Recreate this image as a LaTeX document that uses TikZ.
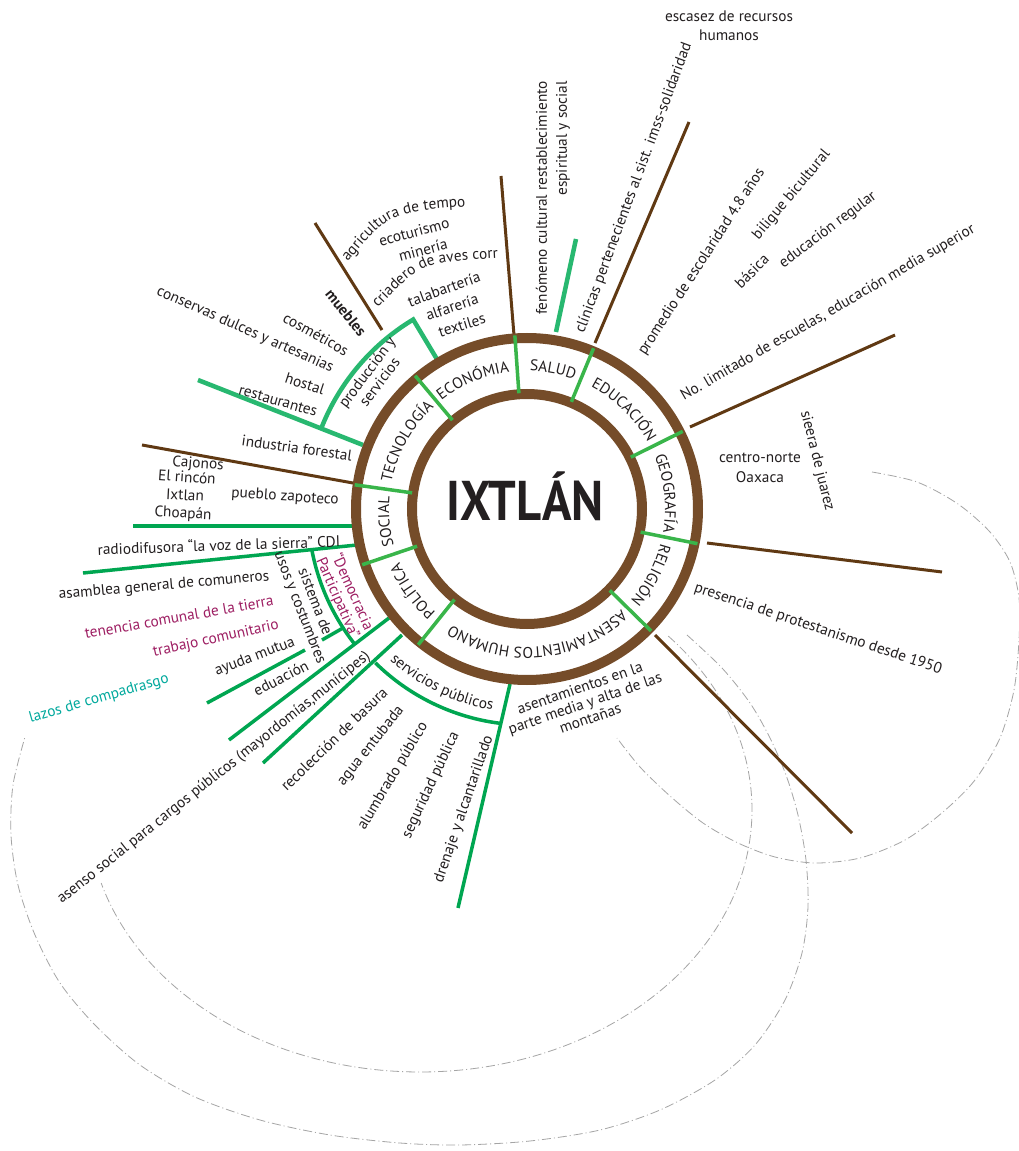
\documentclass[tikz,border=0pt]{standalone}
\usepackage{fontspec}
\setmainfont{PT Sans}
\usetikzlibrary{decorations.text}
\definecolor{ringbrown}{RGB}{117,76,41}
\definecolor{linebrown}{RGB}{96,57,19}
\definecolor{divgreen}{RGB}{57,181,74}
\definecolor{dgreen}{RGB}{0,166,81}
\definecolor{tgreen}{RGB}{40,184,112}
\definecolor{mag}{RGB}{158,31,99}
\definecolor{tealtxt}{RGB}{0,169,157}
\definecolor{txt}{RGB}{35,31,32}
\definecolor{dashgray}{RGB}{165,165,165}
\newcommand\bodyfont{\fontsize{15.3}{18}\selectfont}
\newcommand\ringfont{\fontsize{15.5}{18}\selectfont}
\tikzset{
 px/.style={x=1pt,y=-1pt,shift={(-527,-509)}},
 lbl/.style={font=\bodyfont, text=txt, inner sep=0pt},
 mlbl/.style={lbl, text=mag},
 tlbl/.style={lbl, text=tealtxt},
 bline/.style={draw=linebrown, line width=3pt},
 gline/.style={draw=dgreen, line width=3.5pt},
 tline/.style={draw=tgreen, line width=4.5pt},
 divline/.style={draw=divgreen, line width=3.5pt},
 ringline/.style={draw=ringbrown, line width=10pt},
 dsh/.style={draw=dashgray, line width=0.8pt, dash pattern=on 9pt off 3pt on 1pt off 3pt},
}
\newcommand\ringlabel[3]{%
 \path[decorate, decoration={text along path, text={|\ringfont|#3}, text align=center, text color=txt}]
 ({#1+#2}:138) arc[start angle={#1+#2}, end angle={#1-#2}, radius=138];}
\begin{document}
\begin{tikzpicture}[x=1pt,y=1pt]
\useasboundingbox (-527,-642) rectangle (492,509);
\fill[white] (-527,-642) rectangle (492,509);

% ---------- dashed arcs ----------
\draw[dsh] (-107,-301) ++(41.6:332 and 262) arc[start angle=41.6, end angle=-163.8, x radius=332, y radius=262];
\begin{scope}[px]
\draw[dsh] plot[smooth] coordinates {(872,472) (917,482) (958,504) (990,532) (1010,562) (1019,598) (1019,640) (1014,690) (1000,738) (975,780) (943,812) (905,840) (860,858) (815,863) (775,857) (738,843) (703,823) (670,796) (640,767) (617,738)};
\draw[dsh] plot[smooth] coordinates {(687,635) (722,668) (750,703) (770,738) (786,775) (798,815) (806,860) (808,907) (802,953) (785,1000) (755,1045) (715,1080) (660,1110) (600,1130) (530,1141) (460,1145) (400,1143) (330,1135) (260,1120) (195,1097) (140,1065) (95,1025) (60,983) (35,935) (18,885) (11,835) (13,785) (25,737)};

% ---------- brown lines ----------
\draw[bline] (382,330) -- (315,223);
\draw[bline] (514,335) -- (501,176);
\draw[bline] (595,343) -- (689,122);
\draw[bline] (690,427) -- (895,335);
\draw[bline] (707,543) -- (942,572);
\draw[bline] (655,635) -- (852,833);
\draw[bline] (353,483) -- (142,445);

% ---------- green lines ----------
\draw[tline] (556,332) -- (576,239);
\draw[tline] (363,445) -- (198,380);
\draw[gline] (353,526) -- (133,526);
\draw[gline] (357,545) -- (83,573);
\draw[gline] (389,618) -- (229,740);
\draw[gline] (402,635) -- (263,763);
\draw[gline] (343,628) -- (322,640);
\draw[gline] (305,650) -- (207,703);
\draw[gline] (510,684) -- (458,908);
\end{scope}

\draw[tline] (121:174) -- (121:221) arc[start angle=121, end angle=159, radius=221];
\draw[gline] (191:219) arc[start angle=191, end angle=218, radius=219];
\draw[gline] (225.4:216) arc[start angle=225.4, end angle=263, radius=216];

% ---------- rings ----------
\draw[ringline] (0,0) circle[radius=115];
\draw[ringline] (0,0) circle[radius=171];
\foreach \a in {130,94,67.5,26.5,-11.5,-44.5,-128.7,-161.3,172}
  \draw[divline] (\a:116) -- (\a:174);

\node[font=\fontsize{56}{56}\selectfont\bfseries, text=txt, xscale=0.87, anchor=base, inner sep=0pt] (ix) at (-2,-11.7) {IXTLÁN};

\ringlabel{112.8}{40}{ECONÓMIA}
\ringlabel{79.4}{40}{SALUD}
\ringlabel{45.7}{40}{EDUCACIÓN}
\ringlabel{6.4}{40}{GEOGRAFÍA}
\ringlabel{-27.9}{40}{RELIGIÓN}
\ringlabel{-85}{60}{ASENTAMIENTOS HUMANO}
\ringlabel{-144.4}{40}{POLÍTICA}
\ringlabel{185.1}{40}{SOCIAL}
\ringlabel{150.7}{40}{TECNOLOGÍA}

\path[decorate, decoration={text along path, text={|\bodyfont|servicios públicos}, text align=center, text color=txt}]
 (214:204) arc[start angle=214, end angle=274, radius=204];

% ---------- texts ----------
\begin{scope}[px]
\path[decorate, decoration={text along path, text={|\bodyfont|agricultura de tempo}, text color=txt}]
 (348,262) .. controls (390,212) .. (474,206) -- (580,198);
\path[decorate, decoration={text along path, text={|\bodyfont|criadero de aves corr}, text color=txt}]
 (378,308) .. controls (422,262) .. (503,258) -- (600,250);

\node[lbl, align=center, font=\fontsize{15.3}{19}\selectfont] (esc) at (729,26) {escasez de recursos\\humanos};
\node[lbl, rotate=69.6] (clin) at (634,188) {clínicas pertenecientes al sist. imss-solidaridad};
\node[lbl, rotate=90, align=right, font=\fontsize{15.3}{20}\selectfont] (fen) at (553,198) {fenómeno cultural restablecimiento\\espiritual y social};
\node[lbl, rotate=57] (prom) at (701.7,261.7) {promedio de escolaridad 4.8 años};
\node[lbl, rotate=50] (bil) at (791.7,195) {biligue bicultural};
\node[lbl, rotate=45] (bas) at (751.7,271) {básica};
\node[lbl, rotate=37] (edreg) at (828,230) {educación regular};
\node[lbl, rotate=30] (nolim) at (828,313) {No. limitado de escuelas, educación media superior};
\node[lbl, align=center, font=\fontsize{15.3}{20}\selectfont] (cn) at (760,468) {centro-norte\\Oaxaca};
\node[lbl, rotate=-76] (sj) at (817,461) {sieera de juarez};
\node[lbl, rotate=-18.5] (pres) at (818,629) {presencia de protestanismo desde 1950};
\node[lbl, rotate=19, align=center, font=\fontsize{15.3}{16}\selectfont] (asen) at (585,703) {asentamientos en la\\parte media y alta de las\\montañas};
\node[lbl, rotate=71] (drn) at (464,809) {drenaje y alcantarillado};
\node[lbl, rotate=65] (seg) at (431,785) {seguridad pública};
\node[lbl, rotate=59] (alu) at (393,776) {alumbrado público};
\node[lbl, rotate=51.5] (agua) at (371,746) {agua entubada};
\node[lbl, rotate=44] (rec) at (334,739) {recolección de basura};
\node[lbl, rotate=38.5] (asc) at (214,778) {asenso social para cargos públicos (mayordomías,munícipes)};
\node[tlbl, rotate=16] (laz) at (99,699) {lazos de compadrasgo};
\node[lbl, rotate=27] (edu) at (281,678) {eduación};
\node[lbl, rotate=21] (ayu) at (255,657) {ayuda mutua};
\node[mlbl, rotate=12.5] (tra) at (216,639) {trabajo comunitario};
\node[mlbl, rotate=10] (ten) at (179,617) {tenencia comunal de la tierra};
\node[lbl, rotate=5] (asa) at (164,586) {asamblea general de comuneros};
\node[lbl, rotate=-68.7, align=center, font=\fontsize{15.3}{16}\selectfont] (sis) at (307,605) {sistema de\\usos y costumbres};
\node[mlbl, rotate=-66, align=center, font=\fontsize{15.3}{16}\selectfont] (dem) at (345,595) {“Democracia\\Participativa”};
\node[lbl, rotate=2] (rad) at (219,545) {radiodifusora “la voz de la sierra” CDI};
\node[lbl, rotate=-4] (caj) at (198,464) {Cajonos};
\node[lbl, rotate=-4] (rin) at (187,477) {El rincón};
\node[lbl, rotate=-3] (ixt) at (185,495) {Ixtlan};
\node[lbl, rotate=-3] (cho) at (183,514) {Choapán};
\node[lbl, rotate=-4] (pz) at (285,497) {pueblo zapoteco};
\node[lbl, rotate=-8] (ind) at (297,448) {industria forestal};
\node[lbl, rotate=-16] (rest) at (278,401) {restaurantes};
\node[lbl, rotate=-18] (hos) at (305,384) {hostal};
\node[lbl, rotate=-24] (cons) at (245,330) {conservas dulces y artesanias};
\node[lbl, rotate=-29] (cos) at (316,334) {cosméticos};
\node[lbl, rotate=-51, font=\bodyfont\bfseries] (mue) at (346,313) {muebles};
\node[lbl, rotate=53, align=center, font=\fontsize{15.3}{16}\selectfont] (pys) at (373,377) {producción y\\servicios};
\node[lbl, rotate=15] (eco) at (414,232) {ecoturismo};
\node[lbl, rotate=15] (min) at (423,250) {minería};
\node[lbl, rotate=20] (tal) at (444,289) {talabartería};
\node[lbl, rotate=19] (alf) at (452,307) {alfarería};
\node[lbl, rotate=17] (tex) at (462,325) {textiles};
\end{scope}
\end{tikzpicture}
\end{document}
